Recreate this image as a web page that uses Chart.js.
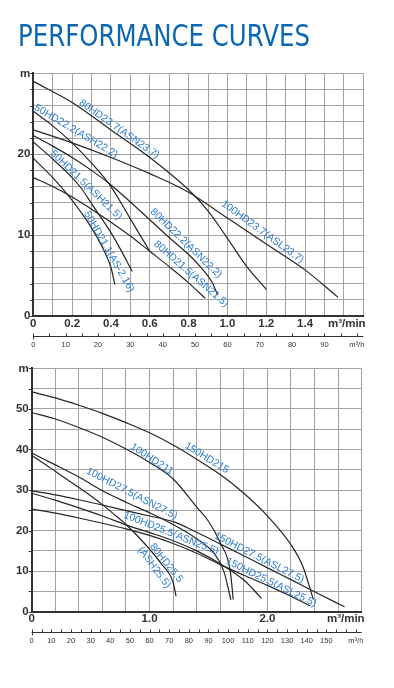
<!DOCTYPE html>
<html><head><meta charset="utf-8">
<script src="https://cdn.jsdelivr.net/npm/chart.js@4.4.1/dist/chart.umd.min.js"></script>
<style>
html,body{margin:0;padding:0;background:#fff;width:394px;height:688px;overflow:hidden;}
#title{position:absolute;left:18px;top:21.7px;font-family:"DejaVu Sans",sans-serif;font-size:29.5px;color:#0b67b2;white-space:nowrap;transform-origin:0 0;line-height:1;}
.wrap{position:absolute;left:0;}
</style></head><body>
<div class="wrap" style="top:0;width:394px;height:360px"><canvas id="c1" width="394" height="360"></canvas></div>
<div class="wrap" style="top:360px;width:394px;height:328px"><canvas id="c2" width="394" height="328"></canvas></div>
<div id="title">PERFORMANCE CURVES</div>
<script>
// ---------- Top chart data (flow m³/min, head m) ----------
const topXTickLabels = [0, 0.2, 0.4, 0.6, 0.8, 1.0, 1.2, 1.4];
const topYTickLabels = [0, 10, 20];
const topFlowLabels = [0, 10, 20, 30, 40, 50, 60, 70, 80, 90];

const q80HD237 = [0, 0.2, 0.4, 0.6, 0.8, 0.9, 1.0, 1.1, 1.2];
const h80HD237 = [29, 26.4, 23.0, 19.6, 15.6, 13, 9.6, 6.1, 3.3];
const q100HD237 = [0, 0.2, 0.4, 0.6, 0.8, 1.0, 1.2, 1.4, 1.57];
const h100HD237 = [23, 21.4, 19.6, 17.6, 15.3, 12.1, 8.9, 5.7, 2.3];
const q50HD222 = [0, 0.1, 0.2, 0.3, 0.4, 0.5, 0.6];
const h50HD222 = [25.3, 23.5, 21.4, 18.9, 16.0, 12.0, 8.0];
const q50HD215 = [0, 0.1, 0.2, 0.25, 0.3, 0.4, 0.45, 0.51];
const h50HD215 = [21.5, 19.4, 17.1, 15.7, 13.9, 10.3, 8.2, 5.5];
const q50HD211 = [0, 0.1, 0.2, 0.3, 0.36, 0.4, 0.42];
const h50HD211 = [19.5, 17.1, 14.3, 10.9, 8.3, 6.0, 3.9];
const q80HD222 = [0, 0.1, 0.2, 0.3, 0.4, 0.5, 0.6, 0.7, 0.8, 0.86, 0.92, 0.95];
const h80HD222 = [22.3, 21.0, 19.6, 18.0, 16.2, 14.1, 11.9, 9.7, 7.6, 6.1, 4.2, 2.6];
const q80HD215 = [0, 0.1, 0.2, 0.3, 0.4, 0.5, 0.6, 0.7, 0.8, 0.885];
const h80HD215 = [17.1, 16.0, 14.7, 13.2, 11.6, 9.9, 8.0, 6.1, 4.1, 2.2];

// ---------- Bottom chart data ----------
const botXTickLabels = [0, 1.0, 2.0];
const botYTickLabels = [0, 10, 20, 30, 40, 50];
const botFlowLabels = [0, 10, 20, 30, 40, 50, 60, 70, 80, 90, 100, 110, 120, 130, 140, 150];

const q150HD215 = [0, 0.2, 0.4, 0.6, 0.8, 1.0, 1.2, 1.4, 1.6, 1.8, 2.0, 2.2, 2.3, 2.39];
const h150HD215 = [54.2, 52.7, 50.9, 48.9, 46.6, 44.1, 41.1, 37.6, 33.8, 29.2, 23.6, 16.5, 11.2, 3.0];
const q100HD211 = [0, 0.2, 0.4, 0.6, 0.8, 1.0, 1.2, 1.4, 1.5, 1.6, 1.685, 1.71];
const h100HD211 = [49.1, 47.5, 45.4, 43.0, 40.1, 36.8, 32.7, 25.8, 22.3, 17.0, 10.0, 3.0];
const q100HD275 = [0, 0.2, 0.4, 0.5, 0.6, 0.8, 1.0, 1.2, 1.4, 1.55, 1.63, 1.69];
const h100HD275 = [39.1, 36.2, 33.2, 31.5, 29.8, 27.0, 24.4, 21.5, 18.0, 14.3, 10.0, 2.9];
const q80HD255 = [0, 0.1, 0.2, 0.3, 0.4, 0.5, 0.6, 0.7, 0.8, 0.9, 1.0, 1.1, 1.2, 1.225];
const h80HD255 = [38.5, 36.6, 34.6, 32.6, 30.6, 28.6, 26.4, 24.0, 21.5, 18.6, 15.4, 11.8, 7.2, 3.8];
const q100HD255 = [0, 0.2, 0.4, 0.6, 0.8, 1.0, 1.2, 1.4, 1.6, 1.8, 1.95];
const h100HD255 = [29.2, 27.5, 25.6, 23.6, 21.4, 19.5, 17.5, 15.0, 11.8, 7.8, 3.3];
const q150HD275 = [0, 0.2, 0.4, 0.6, 0.8, 1.0, 1.2, 1.4, 1.6, 1.8, 2.0, 2.2, 2.4, 2.655];
const h150HD275 = [29.8, 28.8, 27.6, 26.3, 24.9, 23.6, 22.2, 19.6, 16.7, 13.8, 10.8, 7.9, 4.9, 1.2];
const q150HD255 = [0, 0.2, 0.4, 0.6, 0.8, 1.0, 1.2, 1.4, 1.6, 1.8, 2.0, 2.2, 2.365];
const h150HD255 = [25.3, 24.3, 23.1, 21.8, 20.4, 18.8, 16.8, 14.4, 11.6, 9.0, 6.5, 3.8, 1.4];

// ---------- label placement (data coordinates + angle) ----------
const topCurveLabels = [
  {t:'80HD23.7(ASN23.7)', q:0.442, h:23.1, a:35},
  {t:'50HD22.2(ASH22.2)', q:0.22, h:22.85, a:30.6},
  {t:'50HD21.5(ASH21.5)', q:0.272, h:16.2, a:44},
  {t:'50HD21.1(AS-2.16)', q:0.39, h:7.95, a:60},
  {t:'80HD22.2(ASN22.2)', q:0.787, h:9.0, a:44},
  {t:'80HD21.5(ASN21.5)', q:0.813, h:5.2, a:41},
  {t:'100HD23.7(ASL23.7)', q:1.181, h:10.4, a:36}
];
const botCurveLabels = [
  {t:'150HD215', q:1.486, h:37.9, a:31.6},
  {t:'100HD211', q:1.019, h:37.6, a:33},
  {t:'100HD27.5(ASN27.5)', q:0.849, h:29.1, a:27.4},
  {t:'100HD25.5(ASN25.5)', q:1.183, h:19.3, a:21.6},
  {t:'80HD25.5', q:1.141, h:12.0, a:51.6},
  {t:'(ASH25.5)', q:1.039, h:10.9, a:53.6},
  {t:'150HD27.5(ASL27.5)', q:1.93, h:13.3, a:27},
  {t:'150HD25.5(ASL25.5)', q:2.032, h:7.2, a:26}
];

function ds(q, h){
  return {data:q.map((x,i)=>({x:x, y:h[i]})), borderColor:'#262626', borderWidth:1.2,
          pointRadius:0, fill:false, cubicInterpolationMode:'monotone'};
}

const overlay = {
  id:'overlay',
  afterDraw(chart){
    const o = chart.options.plugins.overlay;
    const ctx = chart.ctx, a = chart.chartArea, x = chart.scales.x, y = chart.scales.y;
    ctx.save();
    // small ticks left of y axis
    ctx.strokeStyle = '#333'; ctx.lineWidth = 1;
    for (let v = 0; v <= o.yMax + 1e-9; v += o.yGrid) {
      const py = Math.round(y.getPixelForValue(v)) + 0.5;
      ctx.beginPath(); ctx.moveTo(a.left - 3, py); ctx.lineTo(a.left, py); ctx.stroke();
    }
    // y labels
    ctx.fillStyle = '#333';
    ctx.font = 'bold 11.5px "Liberation Sans", Arial, sans-serif';
    ctx.textAlign = 'right'; ctx.textBaseline = 'middle';
    o.yLabels.forEach(v => ctx.fillText(String(v), a.left - 3, y.getPixelForValue(v)));
    ctx.fillText('m', a.left - 3, y.getPixelForValue(o.yMax) + 1);
    // x labels
    ctx.textAlign = 'center';
    o.xLabels.forEach(v => ctx.fillText(v === 0 ? '0' : v.toFixed(1), x.getPixelForValue(v), a.bottom + 7.5));
    ctx.fillText('m³/min', x.getPixelForValue(o.unitAt), a.bottom + 7.5);
    // secondary flow axis (m³/h)
    const ly = Math.round(a.bottom + 20) + 0.5;
    ctx.strokeStyle = '#333'; ctx.lineWidth = 1;
    ctx.beginPath(); ctx.moveTo(a.left, ly); ctx.lineTo(a.right, ly); ctx.stroke();
    for (let f = 0; f <= o.flowMax; f += 5) {
      const px = Math.round(x.getPixelForValue(f / 60)) + 0.5;
      ctx.beginPath(); ctx.moveTo(px, ly - 3); ctx.lineTo(px, f === 0 ? ly + 3 : ly); ctx.stroke();
    }
    ctx.font = '7.5px "Liberation Sans", Arial, sans-serif';
    ctx.fillStyle = '#333'; ctx.textAlign = 'center';
    o.flowLabels.forEach(f => ctx.fillText(String(f), x.getPixelForValue(f / 60), a.bottom + 29));
    ctx.fillText('m³/h', x.getPixelForValue(o.flowUnitAt / 60), a.bottom + 29);
    // curve labels
    ctx.fillStyle = '#2a7bcf';
    ctx.font = '10.4px "Liberation Sans", Arial, sans-serif';
    o.curveLabels.forEach(l => {
      ctx.save();
      ctx.translate(x.getPixelForValue(l.q), y.getPixelForValue(l.h));
      ctx.rotate(l.a * Math.PI / 180);
      ctx.textAlign = 'center'; ctx.textBaseline = 'middle';
      ctx.fillText(l.t, 0, 0);
      ctx.restore();
    });
    ctx.restore();
  }
};

function makeChart(id, datasets, xMax, xStep, yMax, yStep, pad, ov){
  return new Chart(document.getElementById(id), {
    type:'line',
    data:{datasets:datasets},
    options:{
      responsive:false, animation:false, devicePixelRatio:1,
      layout:{padding:pad},
      plugins:{legend:{display:false}, tooltip:{enabled:false}, overlay:ov},
      scales:{
        x:{type:'linear', min:0, max:xMax,
           ticks:{display:false, stepSize:xStep},
           grid:{color:'#a3a3a3', lineWidth:1, drawTicks:false},
           border:{display:true, color:'#333', width:2},
           afterFit(s){ s.height = 0; }},
        y:{type:'linear', min:0, max:yMax,
           ticks:{display:false, stepSize:yStep},
           grid:{color:'#a3a3a3', lineWidth:1, drawTicks:false},
           border:{display:true, color:'#333', width:2},
           afterFit(s){ s.width = 0; }}
      }
    },
    plugins:[overlay]
  });
}

makeChart('c1', [
  ds(q80HD237, h80HD237), ds(q100HD237, h100HD237), ds(q50HD222, h50HD222),
  ds(q50HD215, h50HD215), ds(q50HD211, h50HD211), ds(q80HD222, h80HD222), ds(q80HD215, h80HD215)
], 1.7, 0.1, 30, 2, {left:33.3, top:73.3, right:30.7, bottom:44},
{yMax:30, yGrid:2, yLabels:topYTickLabels, xLabels:topXTickLabels, unitAt:1.615,
 flowMax:100, flowLabels:topFlowLabels, flowUnitAt:100, curveLabels:topCurveLabels});

makeChart('c2', [
  ds(q150HD215, h150HD215), ds(q100HD211, h100HD211), ds(q100HD275, h100HD275),
  ds(q80HD255, h80HD255), ds(q100HD255, h100HD255), ds(q150HD275, h150HD275), ds(q150HD255, h150HD255)
], 2.8, 0.2, 60, 5, {left:31.7, top:8.3, right:32.3, bottom:76.3},
{yMax:60, yGrid:5, yLabels:botYTickLabels, xLabels:botXTickLabels, unitAt:2.665,
 flowMax:165, flowLabels:botFlowLabels, flowUnitAt:165, curveLabels:botCurveLabels});

// title fit
const t = document.getElementById('title');
const w = t.getBoundingClientRect().width;
t.style.transform = 'scaleX(' + (292 / w) + ')';
</script>
</body></html>
